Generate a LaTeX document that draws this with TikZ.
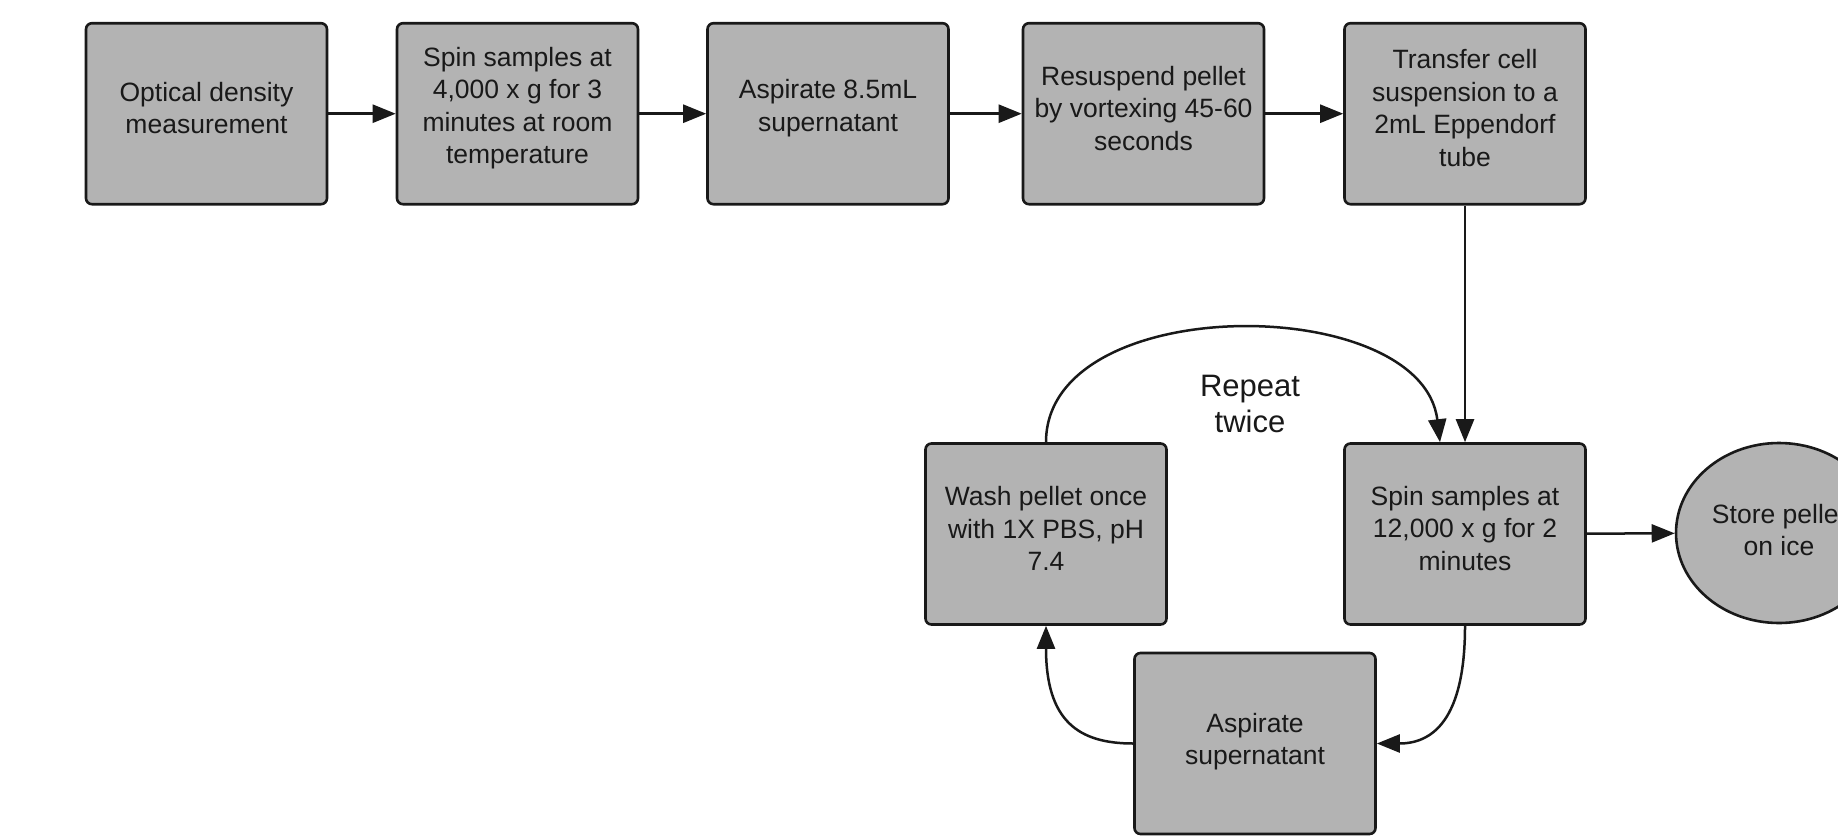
\documentclass[tikz,border=0pt]{standalone}
\usepackage{fontspec}
\setmainfont{Liberation Sans}
\usetikzlibrary{arrows.meta,shapes.geometric}
\definecolor{boxgray}{RGB}{179,179,179}
\definecolor{inkline}{RGB}{25,25,25}
\begin{document}
\begin{tikzpicture}[x=1pt,y=-1pt,
  stepbox/.style={draw=inkline, line width=2.6pt, fill=boxgray, rounded corners=6pt,
    minimum width=241pt, minimum height=181pt, inner sep=0pt},
  ovalbox/.style={draw=inkline, line width=2.6pt, fill=boxgray, ellipse,
    minimum width=206pt, minimum height=180pt, inner sep=0pt},
  boxtext/.style={align=center, inner sep=0pt, font=\fontsize{26.5}{32.5}\selectfont, text=inkline},
  conn/.style={line width=2.5pt, draw=inkline, -{Triangle[length=23pt,width=18pt]}},
]
\path[use as bounding box, clip] (0,0) rectangle (1838,838);
\fill[white] (0,0) rectangle (1838,838);

\node[stepbox] (b1) at (206.5,113.7) {};
\node[stepbox] (b2) at (517.5,113.7) {};
\node[stepbox] (b3) at (828,113.7) {};
\node[stepbox] (b4) at (1143.5,113.7) {};
\node[stepbox] (b5) at (1465,113.7) {};
\node[stepbox] (wash) at (1046,534) {};
\node[stepbox] (spin) at (1465,534) {};
\node[stepbox] (asp) at (1255,743.5) {};
\node[ovalbox] (store) at (1779,533) {};

\node[boxtext] (t1) at ([yshift=5.5pt]b1.center) {Optical density\\measurement};
\node[boxtext] (t2) at ([yshift=5.5pt]b2.center) {Spin samples at\\4,000 x g for 3\\minutes at room\\temperature};
\node[boxtext] (t3) at ([yshift=5.5pt]b3.center) {Aspirate 8.5mL\\supernatant};
\node[boxtext] (t4) at ([yshift=5.5pt]b4.center) {Resuspend pellet\\by vortexing 45-60\\seconds};
\node[boxtext] (t5) at ([yshift=5.5pt]b5.center) {Transfer cell\\suspension to a\\2mL Eppendorf\\tube};
\node[boxtext] (tw) at ([yshift=5.5pt]wash.center) {Wash pellet once\\with 1X PBS, pH\\7.4};
\node[boxtext] (ts) at ([yshift=5.5pt]spin.center) {Spin samples at\\12,000 x g for 2\\minutes};
\node[boxtext] (ta) at ([yshift=2pt]asp.center) {Aspirate\\supernatant};
\node[boxtext] (tst) at ([yshift=3pt]store.center) {Store pellet\\on ice};

\node[align=center, inner sep=0pt, font=\fontsize{31}{36}\selectfont, text=inkline] (rep) at (1250,404) {Repeat\\twice};

\draw[conn] (b1) -- (b2);
\draw[conn] (b2) -- (b3);
\draw[conn] (b3) -- (b4);
\draw[conn] (b4) -- (b5);
\draw[conn] (b5) -- (spin);
\draw[conn] (spin) -- (store);

\coordinate (arcend) at ([xshift=-25pt]spin.north);
\draw[conn] (wash.north) .. controls +(0,-152) and +(-18,-150) .. (arcend);
\draw[conn] (spin.south) .. controls +(0,95) and +(55,0) .. (asp.east);
\draw[conn] (asp.west) .. controls +(-55,0) and +(0,95) .. (wash.south);
\end{tikzpicture}
\end{document}
